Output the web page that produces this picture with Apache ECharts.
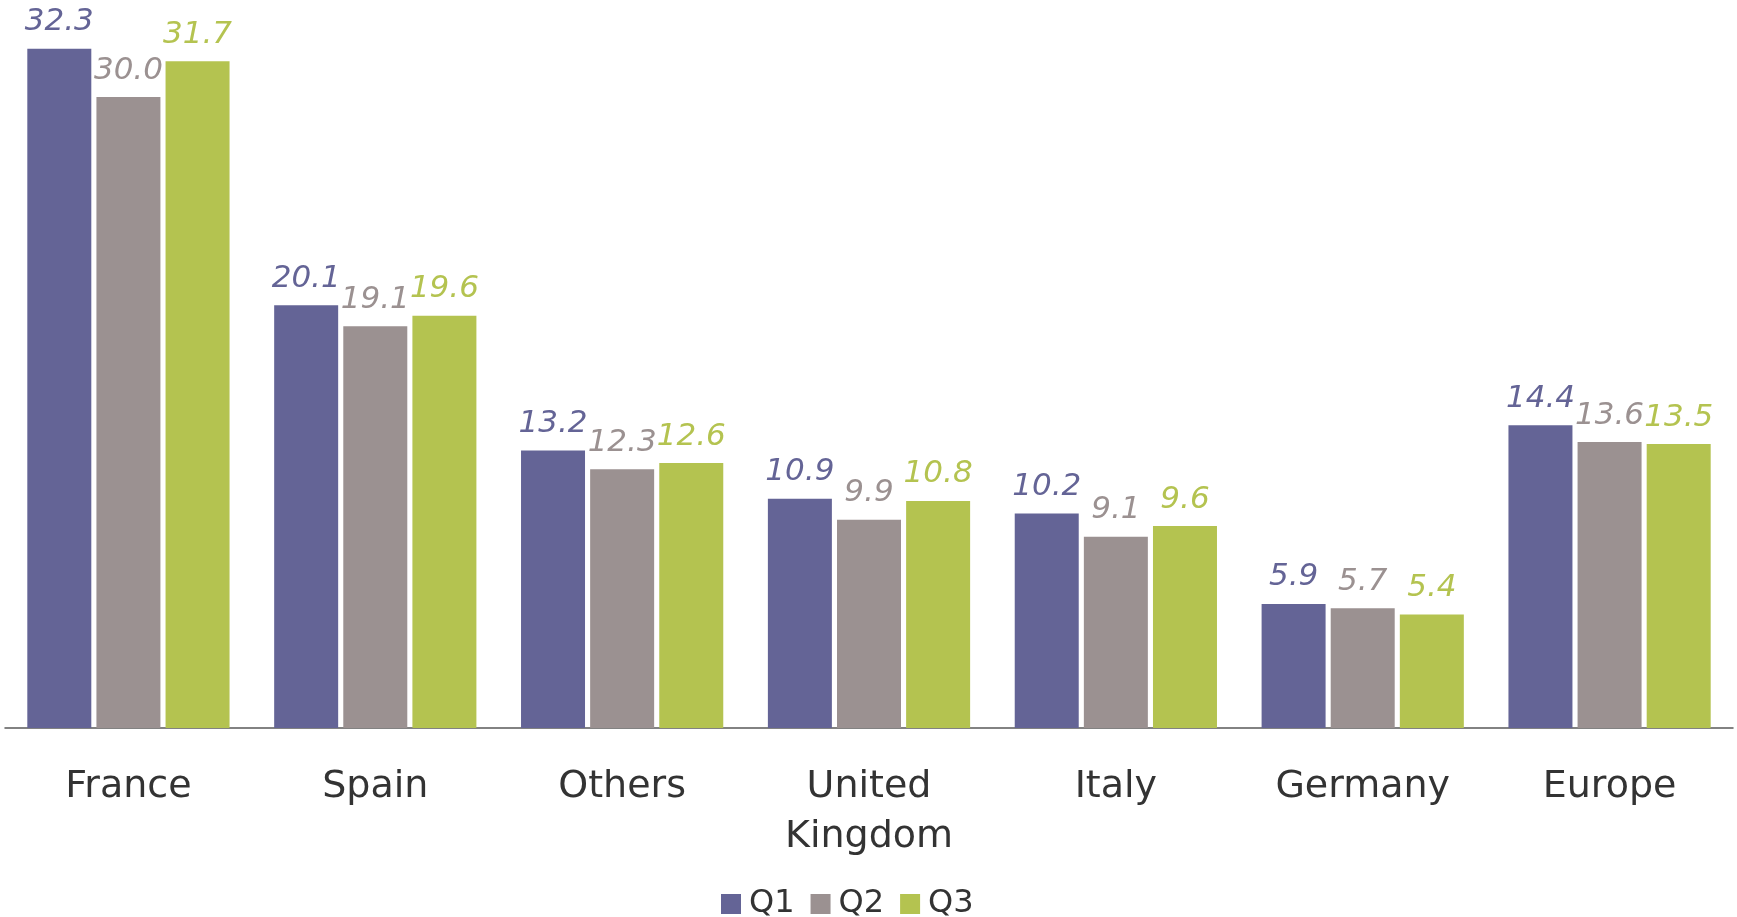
<!DOCTYPE html>
<html>
<head>
<meta charset="utf-8">
<title>Quarterly values by country</title>
<script src="https://cdn.jsdelivr.net/npm/echarts@6/dist/echarts.min.js"></script>
<style>
  html, body { margin: 0; padding: 0; background: #ffffff; }
  #chart { width: 1737px; height: 917px; }
</style>
</head>
<body>
<div id="chart"></div>
<script>
// Categories along the horizontal axis
const categories = ['France', 'Spain', 'Others', 'United\nKingdom', 'Italy', 'Germany', 'Europe'];

// Series values per quarter
const q1 = [32.3, 20.1, 13.2, 10.9, 10.2, 5.9, 14.4];
const q2 = [30.0, 19.1, 12.3, 9.9, 9.1, 5.7, 13.6];
const q3 = [31.7, 19.6, 12.6, 10.8, 9.6, 5.4, 13.5];

const seriesNames = ['Q1', 'Q2', 'Q3'];
const seriesColors = ['#646496', '#9b9191', '#b4c350'];
const seriesData = [q1, q2, q3];

const FONT = '"DejaVu Sans", Verdana, sans-serif';

const chart = echarts.init(document.getElementById('chart'), null, { renderer: 'canvas' });

chart.setOption({
  backgroundColor: '#ffffff',
  animation: false,
  textStyle: { fontFamily: FONT },
  grid: { left: 5, right: 4, top: 13, bottom: 189, containLabel: false },
  legend: {
    data: seriesNames,
    top: 883,
    left: 716,
    itemWidth: 20,
    itemHeight: 20,
    itemGap: 16,
    icon: 'rect',
    textStyle: { fontSize: 32, color: '#333333', fontFamily: FONT, padding: [0, 0, 0, 3] }
  },
  xAxis: {
    type: 'category',
    data: categories,
    axisLine: { show: true, lineStyle: { color: '#595959', width: 1.5 } },
    axisTick: { show: false },
    axisLabel: {
      interval: 0,
      fontSize: 38,
      lineHeight: 50,
      color: '#333333',
      fontFamily: FONT,
      margin: 34
    }
  },
  yAxis: {
    type: 'value',
    min: 0,
    max: 34,
    show: false,
    splitLine: { show: false }
  },
  series: seriesData.map((d, i) => ({
    name: seriesNames[i],
    type: 'bar',
    data: d,
    barWidth: 64,
    barGap: '8%',
    itemStyle: { color: seriesColors[i] },
    label: {
      show: true,
      position: 'top',
      distance: 11,
      formatter: p => p.value.toFixed(1),
      fontSize: 31,
      fontStyle: 'italic',
      color: seriesColors[i],
      fontFamily: FONT
    }
  }))
});
</script>
</body>
</html>
